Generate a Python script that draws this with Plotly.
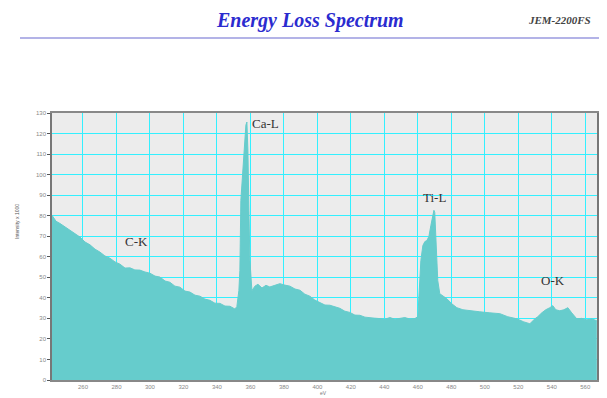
import plotly.graph_objects as go

# Energy loss (eV) and intensity
energy = [241.5, 243.9, 246.3, 249.3, 252.2, 255.2, 258.2, 261.2, 264.2, 267.2,
          270.1, 273.1, 276.1, 279.1, 282.1, 285.1, 288.1, 291.0, 294.0, 297.0,
          300.0, 303.0, 306.0, 309.0, 311.9, 314.9, 317.9, 320.9, 323.9, 326.9,
          329.9, 332.8, 335.8, 338.8, 341.8, 344.8, 347.8, 350.7, 351.9, 353.1,
          353.7, 354.3, 354.9, 355.5, 356.1, 356.7, 357.3, 357.9, 358.5, 359.1,
          359.7, 360.9, 362.7, 364.5, 366.9, 369.3, 371.6, 374.6, 377.6, 380.6,
          383.6, 386.6, 389.6, 392.5, 395.5, 398.5, 401.5, 404.5, 407.5, 410.4,
          413.4, 416.4, 419.4, 422.4, 425.4, 428.4, 431.3, 434.3, 437.3, 440.3,
          443.3, 446.3, 449.3, 452.2, 455.2, 458.2, 460.0, 461.2, 461.8, 463.0,
          464.2, 465.4, 466.6, 467.8, 469.0, 469.6, 470.1, 470.7, 471.9, 473.1,
          475.5, 477.3, 480.3, 483.3, 486.9, 491.0, 497.0, 503.0, 509.0, 513.7,
          519.1, 523.3, 526.9, 529.9, 531.6, 534.0, 536.4, 538.8, 540.6, 542.4,
          544.8, 547.2, 549.6, 551.9, 554.9, 557.9, 560.9, 563.9, 566.9]
intensity = [80.2, 77.3, 76.2, 74.5, 72.9, 71.0, 69.6, 67.2, 65.8, 63.7,
             62.3, 60.4, 59.3, 57.5, 56.4, 54.5, 54.6, 53.6, 53.5, 52.6,
             52.0, 50.6, 50.1, 48.2, 47.6, 45.7, 45.2, 43.3, 42.8, 41.3,
             40.8, 39.4, 38.8, 37.4, 37.3, 36.0, 35.9, 34.6, 35.7, 43.5,
             53.3, 87.5, 95.8, 104.6, 107.0, 119.3, 124.1, 125.6, 111.9, 82.6,
             58.2, 43.5, 45.7, 46.6, 44.8, 46.1, 45.3, 46.1, 46.9, 46.2,
             45.7, 44.3, 43.7, 41.8, 40.8, 38.9, 37.8, 36.5, 36.4, 35.5,
             34.9, 33.5, 32.9, 31.6, 31.5, 30.6, 30.5, 30.1, 29.9, 29.6,
             30.4, 29.6, 30.0, 30.4, 29.7, 29.9, 30.8, 48.4, 58.2, 65.5,
             67.4, 67.9, 69.9, 75.3, 80.2, 82.6, 81.6, 67.9, 48.4, 42.0,
             40.6, 39.6, 37.1, 35.2, 34.2, 33.7, 33.2, 32.7, 32.3, 30.8,
             29.8, 28.3, 27.4, 29.8, 30.8, 32.7, 34.2, 35.2, 36.2, 34.2,
             33.7, 34.2, 35.2, 32.7, 29.8, 30.0, 29.3, 29.8, 28.8]

edge_labels = ["C-K", "Ca-L", "Ti-L", "O-K"]
edge_x = [292, 369, 470, 541]
edge_y = [67.4, 125, 89, 48.4]

x_ticks = list(range(260, 561, 20))
y_ticks = list(range(0, 131, 10))

# Page body has an 8px margin: lay the figure out so the plot lands where it should
OFF = 8
W, H = 607 - OFF, 398 - OFF
PL, PR, PT, PB = 52, 597, 113, 380          # target plot box in window pixels
L, T = PL - OFF, PT - OFF
R = W - (PR - OFF)
B = H - (PB - OFF)


def px(x):
    return (x - PL) / (PR - PL)


def py(y):
    return (PB - y) / (PB - PT)


fig = go.Figure()
fig.add_trace(go.Scatter(
    x=energy, y=intensity, mode="lines", fill="tozeroy",
    fillcolor="#66cccc", line=dict(color="#66cccc", width=1),
    hoverinfo="skip", showlegend=False))

for t, xv, yv in zip(edge_labels, edge_x, edge_y):
    fig.add_annotation(x=xv, y=yv, text=t, showarrow=False,
                       font=dict(family="Liberation Serif", size=13, color="#333333"))

# Header
fig.add_annotation(xref="paper", yref="paper", x=px(310), y=py(20), xanchor="center", yanchor="middle",
                   text="<b><i>Energy Loss Spectrum</i></b>", showarrow=False,
                   font=dict(family="Liberation Serif", size=20, color="#2b2bcf"))
fig.add_annotation(xref="paper", yref="paper", x=px(559), y=py(20), xanchor="center", yanchor="middle",
                   text="<b><i>JEM-2200FS</i></b>", showarrow=False,
                   font=dict(family="Liberation Serif", size=11, color="#444444"))
fig.add_shape(type="line", xref="paper", yref="paper", x0=px(20), x1=px(600), y0=py(38), y1=py(38),
              line=dict(color="#9a9adf", width=1.5))
# Axis titles
fig.add_annotation(xref="paper", yref="paper", x=px(17), y=py(222), xanchor="center", yanchor="middle",
                   text="Intensity x 1000", textangle=-90, showarrow=False,
                   font=dict(family="Liberation Sans", size=5, color="#555555"))
fig.add_annotation(xref="paper", yref="paper", x=px(323), y=py(393), xanchor="center", yanchor="middle",
                   text="eV", showarrow=False,
                   font=dict(family="Liberation Sans", size=5, color="#777777"))

fig.update_layout(
    width=W, height=H, margin=dict(l=L, r=R, t=T, b=B, autoexpand=False),
    paper_bgcolor="white", plot_bgcolor="#ececec",
    showlegend=False,
)
fig.update_xaxes(range=[241.5, 567], tickvals=x_ticks, showgrid=True, gridcolor="#33f0ff", gridwidth=1.2,
                 zeroline=False, showline=True, linecolor="#888888", linewidth=1.5, mirror=True,
                 ticks="", automargin=False,
                 tickfont=dict(family="Liberation Sans", size=6, color="#888888"))
fig.update_yaxes(range=[0, 130], tickvals=y_ticks, showgrid=True, gridcolor="#33f0ff", gridwidth=1.2,
                 zeroline=False, showline=True, linecolor="#777777", linewidth=1.5, mirror=True,
                 ticks="outside", ticklen=3, tickcolor="#555555", automargin=False,
                 tickfont=dict(family="Liberation Sans", size=6, color="#888888"))

fig.write_html("out.html")
